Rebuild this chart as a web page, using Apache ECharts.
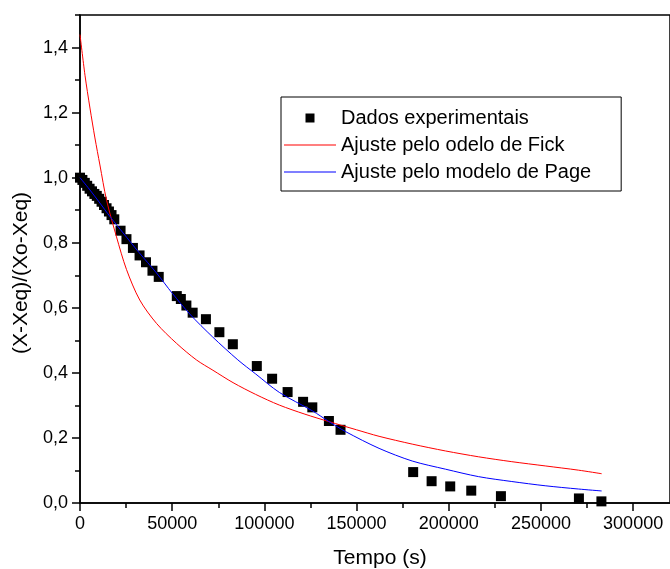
<!DOCTYPE html>
<html>
<head>
<meta charset="utf-8">
<script src="https://cdn.jsdelivr.net/npm/echarts@6/dist/echarts.min.js"></script>
<style>
  html, body { margin: 0; padding: 0; background: #fff; }
  #chart { width: 670px; height: 569px; }
</style>
</head>
<body>
<div id="chart"></div>
<script>
// Experimental drying data: time (s) and moisture ratio
const tempo = [0, 1300, 2600, 3900, 5200, 6500, 7800, 9100, 10400, 11700, 13000, 14400, 15700, 17100, 18600,
  22000, 25200, 28700, 32300, 35800, 39300, 42700, 52500, 54700, 57700, 61100, 68300, 75600, 82900,
  95900, 104200, 112600, 121000, 126000, 135000, 141300, 180700, 190700, 200800, 212200, 228300, 270600, 282800];
const razao = [1.000, 0.993, 0.984, 0.975, 0.966, 0.958, 0.950, 0.944, 0.935, 0.926, 0.916, 0.906, 0.896, 0.885, 0.872,
  0.837, 0.811, 0.784, 0.761, 0.740, 0.714, 0.695, 0.636, 0.627, 0.607, 0.585, 0.565, 0.525, 0.488,
  0.421, 0.382, 0.341, 0.311, 0.294, 0.252, 0.225, 0.095, 0.067, 0.051, 0.038, 0.021, 0.014, 0.005];

// Fick model fitted curve
const fickT = [0, 2700, 5400, 8100, 10800, 14400, 19800, 25200, 32400, 41500, 52300, 63100, 72100,
  83000, 95200, 108100, 122000, 135100, 150000, 162200, 180200, 198200, 216200, 234200, 252300, 270300, 282900];
const fickY = [1.44, 1.315, 1.214, 1.122, 1.039, 0.931, 0.818, 0.718, 0.624, 0.552, 0.491, 0.44, 0.408,
  0.370, 0.334, 0.301, 0.273, 0.250, 0.225, 0.205, 0.181, 0.160, 0.142, 0.127, 0.114, 0.101, 0.090];

// Page model fitted curve
const pageT = [0, 5000, 10000, 16600, 23400, 32000, 41500, 50000, 59500, 72000, 85600, 95200, 108100, 126100,
  135100, 144200, 162200, 180200, 198200, 216200, 234200, 252300, 270300, 282900];
const pageY = [1.0, 0.965, 0.928, 0.878, 0.830, 0.770, 0.707, 0.645, 0.581, 0.51, 0.44, 0.397, 0.340, 0.283,
  0.250, 0.219, 0.168, 0.129, 0.104, 0.081, 0.066, 0.053, 0.043, 0.037];

// Axis ticks and labels
const xMajor = [0, 50000, 100000, 150000, 200000, 250000, 300000];
const xTickLabels = ['0', '50000', '100000', '150000', '200000', '250000', '300000'];
const xMinor = [25000, 75000, 125000, 175000, 225000, 275000];
const yMajor = [0, 0.2, 0.4, 0.6, 0.8, 1.0, 1.2, 1.4];
const yTickLabels = ['0,0', '0,2', '0,4', '0,6', '0,8', '1,0', '1,2', '1,4'];
const yMinor = [0.1, 0.3, 0.5, 0.7, 0.9, 1.1, 1.3, 1.5];

const seriesNames = ['Dados experimentais', 'Ajuste pelo odelo de Fick', 'Ajuste pelo modelo de Page'];

const FONT = '"Liberation Sans", Arial, sans-serif';
const SQUARE = 'path://M0,0L10,0L10,10L0,10Z';
const HAIRLINE = 'path://M0,0L10,0L10,0.2L0,0.2Z';
const pair = (xs, ys) => xs.map((x, i) => [x, ys[i]]);
const pick = (vals, labels) => v => {
  const i = vals.findIndex(t => Math.abs(t - v) < 1e-6);
  return i >= 0 ? labels[i] : '';
};

const chart = echarts.init(document.getElementById('chart'), null, { renderer: 'canvas' });

const xBase = { type: 'value', min: 0, max: 320000, gridIndex: 0, position: 'bottom', splitLine: { show: false } };
const yBase = { type: 'value', min: 0, max: 1.5, gridIndex: 0, position: 'left', splitLine: { show: false } };

chart.setOption({
  animation: false,
  backgroundColor: '#fff',
  grid: {
    left: 80, top: 15, width: 592, height: 488,
    show: true, borderColor: '#000', borderWidth: 1.5, backgroundColor: 'transparent'
  },
  legend: {
    orient: 'vertical',
    left: 281, top: 97,
    itemWidth: 52, itemHeight: 9, itemGap: 7,
    padding: [11, 30, 9, 3],
    borderColor: '#000', borderWidth: 1,
    symbolKeepAspect: true,
    textStyle: { fontFamily: FONT, fontSize: 20, color: '#000' },
    data: [
      { name: seriesNames[0], icon: SQUARE },
      { name: seriesNames[1], icon: HAIRLINE },
      { name: seriesNames[2], icon: HAIRLINE }
    ]
  },
  xAxis: [
    Object.assign({}, xBase, {
      interval: 50000,
      axisLine: { show: true, lineStyle: { color: '#000', width: 1.5 } },
      axisTick: { show: true, length: 8, customValues: xMajor, lineStyle: { color: '#000', width: 1.5 } },
      axisLabel: {
        show: true, margin: 12, customValues: xMajor, formatter: pick(xMajor, xTickLabels),
        fontFamily: FONT, fontSize: 18, color: '#000'
      }
    }),
    Object.assign({}, xBase, {
      interval: 25000,
      axisLine: { show: false },
      axisTick: { show: true, length: 5, customValues: xMinor, lineStyle: { color: '#000', width: 1.5 } },
      axisLabel: { show: false }
    })
  ],
  yAxis: [
    Object.assign({}, yBase, {
      interval: 0.2,
      axisLine: { show: true, lineStyle: { color: '#000', width: 1.5 } },
      axisTick: { show: true, length: 8, customValues: yMajor, lineStyle: { color: '#000', width: 1.5 } },
      axisLabel: {
        show: true, margin: 12, customValues: yMajor, formatter: pick(yMajor, yTickLabels),
        fontFamily: FONT, fontSize: 18, color: '#000'
      }
    }),
    Object.assign({}, yBase, {
      interval: 0.1,
      axisLine: { show: false },
      axisTick: { show: true, length: 5, customValues: yMinor, lineStyle: { color: '#000', width: 1.5 } },
      axisLabel: { show: false }
    })
  ],
  graphic: [
    {
      type: 'text', x: 21, y: 273, rotation: Math.PI / 2,
      style: { text: '(X-Xeq)/(Xo-Xeq)', font: '21px ' + FONT, fill: '#000', align: 'center', verticalAlign: 'middle' }
    },
    {
      type: 'text', x: 380, y: 558,
      style: { text: 'Tempo (s)', font: '21px ' + FONT, fill: '#000', align: 'center', verticalAlign: 'middle' }
    }
  ],
  series: [
    {
      name: seriesNames[0], type: 'scatter', xAxisIndex: 0, yAxisIndex: 0,
      symbol: 'rect', symbolSize: 10, z: 2,
      itemStyle: { color: '#000', opacity: 1 },
      data: pair(tempo, razao)
    },
    {
      name: seriesNames[1], type: 'line', xAxisIndex: 0, yAxisIndex: 0,
      symbol: 'none', smooth: 0.3, z: 3,
      lineStyle: { color: '#ff0000', width: 1 }, itemStyle: { color: '#ff0000' },
      data: pair(fickT, fickY)
    },
    {
      name: seriesNames[2], type: 'line', xAxisIndex: 0, yAxisIndex: 0,
      symbol: 'none', smooth: 0.3, z: 4,
      lineStyle: { color: '#0000ff', width: 1 }, itemStyle: { color: '#0000ff' },
      data: pair(pageT, pageY)
    }
  ]
});
</script>
</body>
</html>
